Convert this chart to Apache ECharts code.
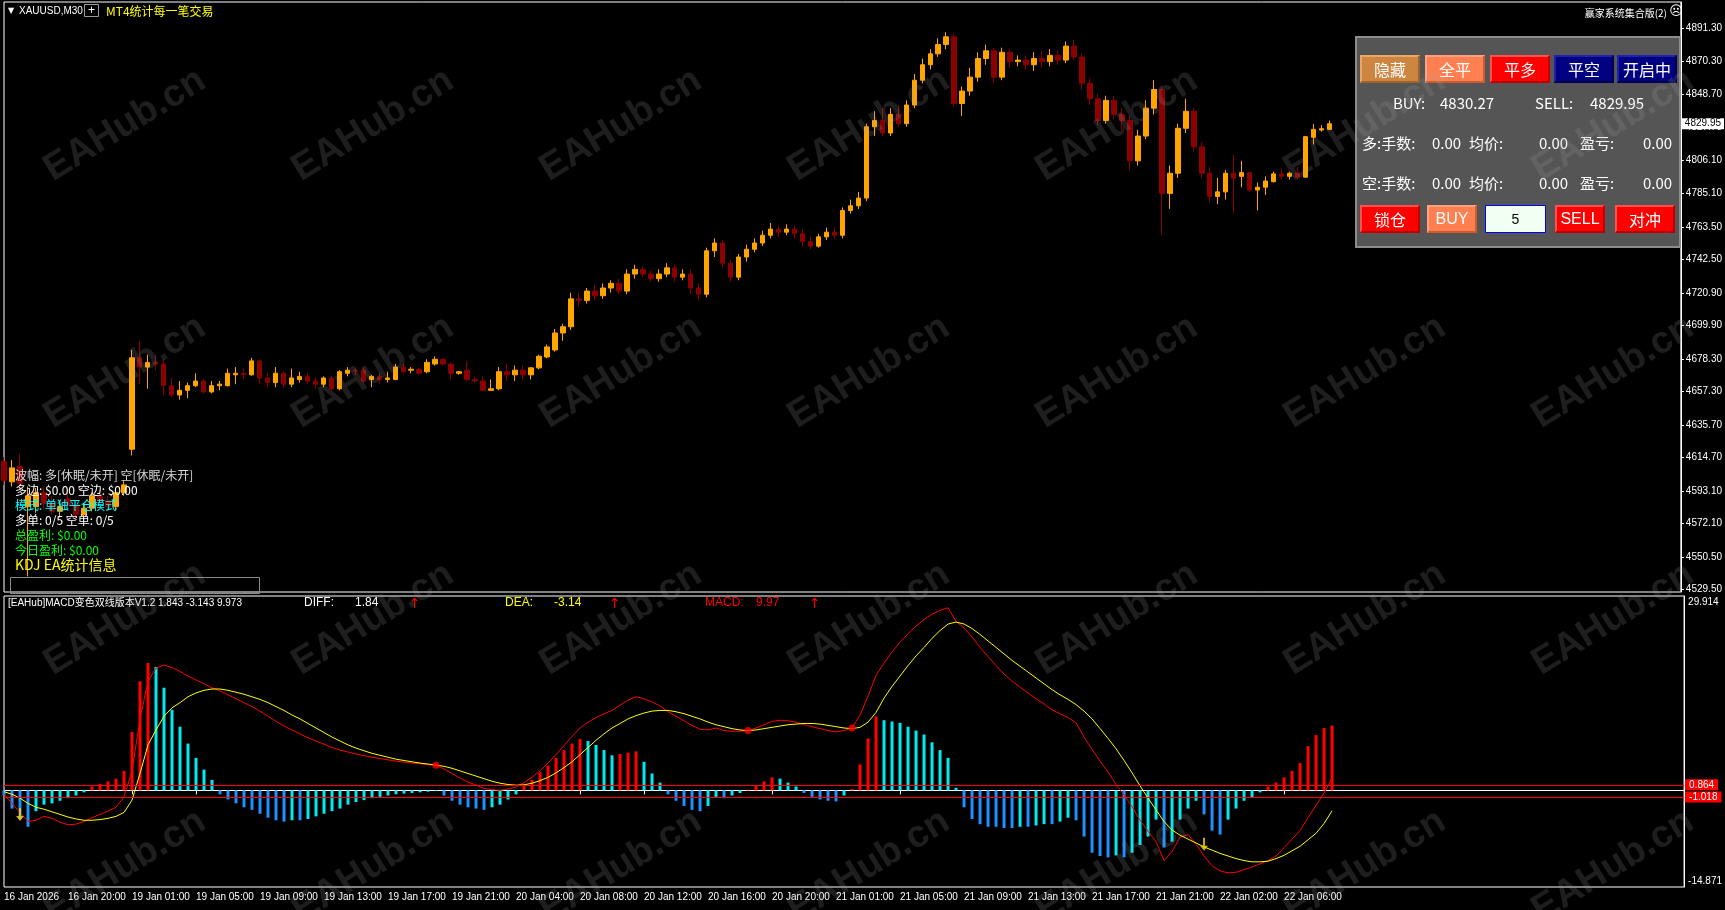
<!DOCTYPE html>
<html><head><meta charset="utf-8">
<script src="https://cdn.jsdelivr.net/npm/echarts@6/dist/echarts.min.js"></script>
<style>html,body{margin:0;padding:0;background:#000;overflow:hidden}#c{width:1725px;height:910px}</style>
</head><body><div id="c"></div>
<script>
// ---------- DATA ----------
const tickLabels = ['16 Jan 2026','16 Jan 20:00','19 Jan 01:00','19 Jan 05:00','19 Jan 09:00','19 Jan 13:00','19 Jan 17:00','19 Jan 21:00','20 Jan 04:00','20 Jan 08:00','20 Jan 12:00','20 Jan 16:00','20 Jan 20:00','21 Jan 01:00','21 Jan 05:00','21 Jan 09:00','21 Jan 13:00','21 Jan 17:00','21 Jan 21:00','22 Jan 02:00','22 Jan 06:00'];
const priceTicks = [4891.30,4870.30,4848.70,4827.70,4806.10,4785.10,4763.50,4742.50,4720.90,4699.90,4678.30,4657.30,4635.70,4614.70,4593.10,4572.10,4550.50,4529.50];
const priceRange = [4527.95, 4908.45];
const macdRange = [-14.871, 29.914];
const macdTicks = [29.914, -14.871];
const levelValues = [0.864, -1.018];
const slotCount = 211;

const opens = [
4612,4599,4609,4583,4583,4592,4585,4580,4588,4584,
4578,4582,4590,4587,4583,4592,4620,4679,4673,4676,
4675,4661,4655,4658,4661,4664,4657,4661,4661,4668,
4669,4668,4677,4666,4663,4669,4662,4665,4667,4664,
4662,4666,4659,4669,4671,4671,4665,4667,4665,4665,
4673,4671,4671.6,4670,4675,4678,4675,4669,4671,4665,
4664,4658,4659,4670,4668,4671,4668,4672.5,4679.5,4684,
4695,4699,4717,4716,4722,4719,4724,4727,4722,4733,
4736,4733,4730,4733,4737,4731,4733,4724,4720,4748,
4753,4740,4731,4744,4749,4753,4758,4762,4760,4762,
4759,4754,4751,4757,4760,4758,4774,4777,4782,4828,
4832,4824,4836,4830,4842,4858,4868,4875,4881,4886,
4843,4851,4860,4872,4877,4860,4876,4870,4871,4868,
4872,4870,4874,4871,4880,4873,4856,4846,4832,4845,
4836,4832,4806,4822,4840,4852,4785,4798,4827,4838,
4815,4798,4783,4786,4798,4796,4798.4,4787.2,4789,4792.6,
4797.6,4796,4798,4795.5,4821.2,4825.9,4826.3];
const closes = [
4600,4608,4598,4590,4592,4585,4580,4583,4584,4578,
4582,4590,4587,4583,4592,4597,4679,4673,4676,4675,
4661,4655,4658,4661,4664,4657,4661,4662,4669,4669,
4668,4677,4666,4663,4669,4662,4666,4667,4664,4662,
4666,4659,4670,4671,4670.5,4664,4667,4665,4666,4673,
4670,4671.6,4669,4676,4678,4675,4669,4670,4665,4664,
4658,4659,4670,4668,4671,4668,4672.5,4680,4686,4695,
4699,4717,4716,4722,4719,4724,4727,4722,4733,4736,
4733,4730,4733,4737,4731,4733,4724,4720,4748,4753,
4740,4731,4744,4749,4753,4758,4762,4760,4762,4759,
4754,4751,4757,4760,4758,4774,4777,4782,4828,4832,
4824,4836,4830,4842,4858,4868,4875,4881,4886,4843,
4851,4860,4872,4877,4860,4876,4870,4871,4868,4872,
4870,4874,4871,4880,4873,4856,4846,4832,4845,4836,
4832,4806,4822,4840,4852,4785,4798,4827,4838,4815,
4798,4783,4786,4798,4794.8,4798.4,4787.2,4789,4793,4797.6,
4796,4798,4795.5,4821.6,4826.3,4826.7,4829.95];
const lows = [
4597,4596,4594,4538,4579,4581,4578,4576,4581,4575,
4574,4580,4584,4580,4581,4590,4616,4662,4659,4671,
4655,4654,4652,4653,4660,4656,4656,4658,4660.5,4662,
4665,4667.5,4662,4660,4660,4660,4660,4663,4662.5,4659,
4660,4658,4658,4667,4668,4663,4660,4662,4663,4664.5,
4669,4669,4668,4669,4674,4674,4665,4668,4664,4663,
4657.5,4657.8,4658,4664,4664,4665,4665,4671.6,4678.7,4683,
4690,4697,4712,4714,4716,4717,4721,4720,4720,4730,
4731,4728,4728,4731,4728,4729,4720,4716,4718,4744,
4737,4728,4729,4741,4747,4751,4756,4757,4758,4756,
4751,4749,4750,4755,4756,4756,4772,4775,4780,4822,
4822,4822,4828,4828,4840,4856,4865,4873,4878,4841,
4835,4848,4857,4868,4856,4858,4866,4867,4865,4864,
4866,4867,4868,4869,4871,4852,4842,4829,4830,4833,
4826,4800,4803,4820,4836,4758,4775,4795,4824,4812,
4795,4779,4778,4781,4772.2,4789,4786,4774,4784,4792,
4794,4794,4794,4795,4816.6,4824.8,4826];
const highs = [
4615,4613,4617,4596,4595,4596,4590,4587,4594,4587,
4585,4592,4594,4590,4595,4600,4684,4690,4681,4681,
4678,4666,4664,4663,4669,4665,4664,4664,4672,4673,
4672,4679,4678,4669,4673,4670,4672,4670,4669,4666,
4667,4667,4671,4673,4673,4673,4668,4669,4670,4675,
4675,4673,4672.5,4678,4680,4679,4676,4670.5,4676.5,4667,
4667,4665,4673,4675,4674,4674,4673,4681,4687.6,4697.6,
4701,4721,4721,4724,4726,4727,4729,4730,4736,4739,
4738,4735,4736,4740,4739,4736,4736,4727,4750,4756,
4755,4742,4746,4752,4756,4761,4766,4764,4765,4764,
4762,4757,4759,4763,4763,4776,4781,4786,4830,4838,
4840,4840,4842,4845,4862,4872,4878,4885,4889,4888,
4854,4866,4876,4881,4879,4879,4878,4874,4874,4876,
4877,4878,4877,4883,4884,4875,4859,4849,4848,4848,
4840,4835,4826,4845,4858,4854,4803,4830,4846,4840,
4818,4802,4795,4800,4809.8,4806,4799,4792,4796,4799,
4801,4799,4802,4822,4829.7,4829,4832];

const diffValues = [
-0.6,-2.0,-3.4,-4.8,-4.6,-4.0,-4.3,-4.9,-5.3,-5.2,
-4.8,-4.2,-3.7,-3.2,-2.6,-1.0,3.0,11.0,16.8,18.8,
19.3,18.9,18.3,17.6,17.0,16.4,15.8,15.3,14.7,14.1,
13.5,12.9,12.2,11.4,10.6,9.9,9.3,8.7,8.1,7.6,
7.1,6.6,6.2,5.9,5.6,5.35,5.1,4.9,4.7,4.5,
4.35,4.2,4.1,3.95,3.85,3.3,2.6,1.9,1.3,0.8,
0.3,0.1,0.0,0.2,0.5,1.2,2.0,3.0,4.2,5.5,
6.9,8.3,9.6,10.5,11.2,11.8,12.3,13.1,13.9,14.4,
14.1,13.6,13.0,12.1,11.4,10.7,10.0,9.4,9.3,9.6,
9.2,9.1,9.1,9.2,9.6,10.1,10.6,10.8,10.7,10.5,
10.1,9.8,9.5,9.2,9.0,9.2,9.6,11.6,14.5,17.7,
19.6,21.3,22.8,24.1,25.3,26.3,27.1,27.7,28.1,26.0,
25.0,23.6,22.0,20.6,19.2,17.9,16.8,15.9,15.0,14.1,
13.3,12.4,11.8,11.2,10.4,8.2,6.3,4.5,2.8,0.9,
-0.7,-2.5,-4.6,-6.3,-7.9,-10.8,-9.4,-7.2,-6.8,-8.3,
-10.1,-11.6,-12.4,-12.7,-12.6,-12.2,-11.8,-11.3,-10.8,-10.1,
-8.8,-7.5,-6.2,-4.2,-2.3,-0.4,1.843];
const deaValues = [
-0.2,-0.6,-1.2,-2.0,-2.6,-2.9,-3.3,-3.7,-4.1,-4.4,
-4.6,-4.6,-4.5,-4.3,-4.0,-3.4,-1.5,2.6,7.0,9.3,
11.4,12.7,13.5,14.4,15.0,15.4,15.6,15.6,15.4,15.1,
14.8,14.4,14.0,13.5,12.9,12.3,11.6,11.0,10.3,9.6,
8.9,8.2,7.6,7.0,6.5,6.1,5.7,5.4,5.1,4.8,
4.6,4.4,4.2,4.05,3.9,3.7,3.4,3.0,2.6,2.2,
1.8,1.4,1.1,0.9,0.8,0.85,1.1,1.5,2.0,2.7,
3.5,4.4,5.5,6.6,7.7,8.7,9.6,10.3,11.0,11.5,
11.9,12.2,12.3,12.3,12.1,11.8,11.4,11.0,10.5,10.1,
9.8,9.5,9.3,9.2,9.3,9.5,9.7,9.9,10.1,10.2,
10.3,10.3,10.2,10.0,9.8,9.6,9.5,9.7,10.5,12.0,
14.2,16.0,17.6,19.2,20.7,22.0,23.4,24.6,25.6,25.9,
25.6,24.9,24.0,23.0,22.0,21.0,20.0,19.1,18.2,17.3,
16.4,15.5,14.7,14.0,13.2,12.2,11.0,9.5,8.0,6.4,
4.6,2.7,0.7,-1.2,-3.0,-4.8,-6.1,-6.9,-7.5,-8.1,
-8.7,-9.2,-9.7,-10.1,-10.5,-10.8,-11.0,-11.0,-10.9,-10.5,
-10.0,-9.3,-8.6,-7.6,-6.6,-5.1,-3.143];
const histValues = [
-0.8,-2.8,-4.4,-5.6,-3.2,-2.2,-2.0,-1.6,-1.2,-0.8,
-0.3,0.6,1.0,1.4,1.8,3.0,9.0,16.8,19.6,19.0,
15.8,12.4,9.8,7.2,5.0,3.2,1.6,-0.6,-1.4,-2.0,
-2.6,-3.0,-3.6,-4.2,-4.6,-4.8,-4.6,-4.6,-4.4,-4.0,
-3.6,-3.2,-2.8,-2.2,-1.8,-1.5,-1.2,-1.0,-0.8,-0.6,
-0.5,-0.4,-0.3,-0.2,-0.1,-0.8,-1.6,-2.2,-2.6,-2.8,
-3.0,-2.6,-2.2,-1.4,-0.6,0.7,1.6,2.8,3.8,5.0,
6.2,7.2,7.9,7.6,7.0,6.2,5.4,5.6,5.8,6.0,
4.4,2.6,1.2,-0.6,-1.6,-2.4,-3.0,-3.2,-2.4,-1.0,
-1.2,-0.8,-0.4,0.1,0.8,1.4,2.0,1.8,1.2,0.6,
-0.4,-1.0,-1.4,-1.6,-1.7,-0.8,0.2,4.0,8.0,11.4,
10.8,10.6,10.4,9.8,9.2,8.6,7.4,6.2,5.0,0.4,
-2.6,-4.4,-5.2,-5.6,-5.6,-5.8,-5.8,-5.6,-5.6,-5.4,
-5.2,-5.2,-4.8,-4.2,-4.6,-7.1,-9.6,-10.1,-10.3,-10.0,
-10.3,-9.6,-8.4,-7.1,-4.5,-8.8,-7.9,-4.5,-2.8,-1.6,
-3.7,-6.2,-6.8,-4.5,-2.8,-1.6,-1.1,-0.3,0.6,1.2,
2.0,3.0,4.2,6.8,8.5,9.6,9.973];
const crossBars = [54, 93, 106];
const arrowBars = [2, 150];
const arrowValues = [-3.7, -8.3];
const bidPrice = 4829.95, askPrice = 4830.27;

// ---------- BUILD ----------
const N = opens.length;
const last = N - 1;
const categories = [];
for (let i = 0; i < slotCount; i++) categories.push(i % 8 === 0 && tickLabels[i / 8] ? tickLabels[i / 8] : '');
const candleData = opens.map((o, i) => [o, closes[i], lows[i], highs[i]]);
const FONT = '"Liberation Sans","Noto Sans CJK SC",sans-serif';
const CJK = '"Noto Sans CJK SC","Liberation Sans",sans-serif';

const graphics = [];
function txt(x, y, s, color, size, opt) {
  opt = opt || {};
  graphics.push({type:'text', x, y, z: opt.z || 60, silent:true,
    style:{text:s, fill:color, font:(opt.weight||'normal') + ' ' + size + 'px ' + (opt.family||CJK),
      align: opt.align||'left', verticalAlign:'middle'}});
}
function rect(x, y, w, h, fill, stroke, lw, z) {
  graphics.push({type:'rect', z: z||55, silent:true, shape:{x, y, width:w, height:h},
    style:{fill: fill||'none', stroke: stroke||null, lineWidth: lw||1}});
}
function btn(x, y, w, h, fill, label, color, hi, lo, family, size) {
  rect(x, y, w, h, fill, null, 0, 55);
  graphics.push({type:'polyline', z:56, silent:true, shape:{points:[[x+1,y+h-1],[x+1,y+1],[x+w-1,y+1]]}, style:{stroke:hi, lineWidth:2, fill:null}});
  graphics.push({type:'polyline', z:56, silent:true, shape:{points:[[x+1,y+h-1],[x+w-1,y+h-1],[x+w-1,y+1]]}, style:{stroke:lo, lineWidth:2, fill:null}});
  txt(x + w/2, y + h/2 + 1, label, color, size||16, {align:'center', family: family||CJK, z:57});
}
// header
txt(8, 11, '▼', '#fff', 8, {family:'"DejaVu Sans"'});
txt(19, 11, 'XAUUSD,M30', '#fff', 10, {family:FONT});
rect(84.5, 4.5, 14, 12, 'none', '#9a9a9a', 1, 60);
txt(91.5, 10.5, '+', '#fff', 12, {align:'center', family:FONT});
txt(106, 11, 'MT4统计每一笔交易', '#FFFF00', 12);
txt(1667, 13, '赢家系统集合版(2)', '#fff', 10, {align:'right'});
txt(1676, 12, '☹', '#fff', 13, {align:'center', family:'"DejaVu Sans"'});
// info block
txt(15, 475, '波幅: 多[休眠/未开] 空[休眠/未开]', '#D8D8D8', 12);
txt(15, 490, '多边: $0.00 空边: $0.00', '#FFFFFF', 12);
txt(15, 505, '模式: 单独平仓模式', '#00FFFF', 12);
txt(15, 520, '多单: 0/5 空单: 0/5', '#FFFFFF', 12);
txt(15, 535, '总盈利: $0.00', '#00FF00', 12);
txt(15, 550, '今日盈利: $0.00', '#00FF00', 12);
txt(15, 565, 'KDJ EA统计信息', '#FFFF00', 14);
rect(10.5, 577.5, 249, 16, 'none', '#8a8a8a', 1, 60);
// MACD header
txt(8, 603, '[EAHub]MACD变色双线版本V1.2 ' + diffValues[last].toFixed(3) + ' ' + deaValues[last].toFixed(3) + ' ' + histValues[last].toFixed(3), '#fff', 10, {family:FONT});
txt(304, 603, 'DIFF:', '#fff', 12, {family:FONT});
txt(355, 603, diffValues[last].toFixed(2), '#fff', 12, {family:FONT});
txt(409, 604, '↑', '#FF0000', 14, {family:'"DejaVu Sans"'});
txt(505, 603, 'DEA:', '#FFFF00', 12, {family:FONT});
txt(554, 603, deaValues[last].toFixed(2), '#FFFF00', 12, {family:FONT});
txt(609, 604, '↑', '#FF0000', 14, {family:'"DejaVu Sans"'});
txt(705, 603, 'MACD:', '#FF0000', 12, {family:FONT});
txt(756, 603, histValues[last].toFixed(2), '#FF0000', 12, {family:FONT});
txt(809, 604, '↑', '#FF0000', 14, {family:'"DejaVu Sans"'});
// trade panel
rect(1356, 37, 324, 210, '#555555', '#8c8c8c', 2, 50);
btn(1360, 55, 60, 28, '#CD853F', '隐藏', '#fff', '#E8A868', '#A0642A');
btn(1425, 55, 60, 28, '#FF7F50', '全平', '#fff', '#FFA080', '#D05A30');
btn(1490, 55, 60, 28, '#FF0000', '平多', '#fff', '#FF5050', '#C00000');
btn(1554, 55, 60, 28, '#000080', '平空', '#fff', '#2020B0', '#000050');
btn(1617, 55, 60, 28, '#000080', '开启中', '#fff', '#2020B0', '#000050');
txt(1393, 103, 'BUY:', '#fff', 15);
txt(1440, 103, askPrice.toFixed(2), '#fff', 15);
txt(1535, 103, 'SELL:', '#fff', 15);
txt(1590, 103, bidPrice.toFixed(2), '#fff', 15);
[['多', 143], ['空', 183]].forEach(function (r) {
  txt(1362, r[1], r[0] + ':手数:', '#fff', 15);
  txt(1432, r[1], '0.00', '#fff', 15);
  txt(1469, r[1], '均价:', '#fff', 15);
  txt(1539, r[1], '0.00', '#fff', 15);
  txt(1580, r[1], '盈亏:', '#fff', 15);
  txt(1643, r[1], '0.00', '#fff', 15);
});
btn(1360, 205, 60, 28, '#FF0000', '锁仓', '#fff', '#FF5050', '#C00000');
btn(1427, 205, 50, 28, '#FF7F50', 'BUY', '#fff', '#FFA080', '#D05A30', FONT, 16);
rect(1485.5, 205.5, 60, 27, '#F0FFF0', '#0000FF', 1, 55);
txt(1515.5, 220, '5', '#000', 14, {align:'center', family:FONT, z:57});
btn(1555, 205, 50, 28, '#FF0000', 'SELL', '#fff', '#FF5050', '#C00000', FONT, 16);
btn(1615, 205, 60, 28, '#FF0000', '对冲', '#fff', '#FF5050', '#C00000');
// watermarks
[125, 372, 619, 866].forEach(function (wy) {
  [125, 373, 621, 869, 1117, 1365, 1613].forEach(function (wx) {
    graphics.push({type:'text', x:wx, y:wy, rotation:0.55, z:100, silent:true,
      style:{text:'EAHub.cn', fill:'rgba(160,160,160,0.19)', font:'bold 38px "Liberation Sans"', align:'center', verticalAlign:'middle'}});
  });
});

const chart = echarts.init(document.getElementById('c'), null, {renderer:'canvas'});
chart.setOption({
  backgroundColor:'#000',
  animation:false,
  grid:[
    {left:4, right:39, top:2, height:590, show:true, borderColor:'#fff', borderWidth:1, backgroundColor:'transparent'},
    {left:4, right:39, top:596, height:291, show:true, borderColor:'#fff', borderWidth:1, backgroundColor:'transparent'}
  ],
  xAxis:[
    {type:'category', gridIndex:0, data:categories, boundaryGap:false,
      axisLine:{show:false}, axisTick:{show:false}, axisLabel:{show:false}, splitLine:{show:false}},
    {type:'category', gridIndex:1, data:categories, boundaryGap:false,
      axisLine:{show:true, lineStyle:{color:'#fff'}},
      axisTick:{show:true, length:4, lineStyle:{color:'#fff'}, interval:function (i) { return i % 8 === 0 && i < N; }},
      axisLabel:{show:true, color:'#fff', fontSize:10, fontFamily:'Liberation Sans', align:'left', margin:5,
        interval:function (i) { return i % 8 === 0 && i < N; }},
      splitLine:{show:false}}
  ],
  yAxis:[
    {type:'value', gridIndex:0, position:'right', min:priceRange[0], max:priceRange[1], scale:true,
      axisLine:{show:true, lineStyle:{color:'#fff'}}, splitLine:{show:false},
      axisTick:{show:true, length:3, lineStyle:{color:'#fff'}, customValues:priceTicks},
      axisLabel:{color:'#fff', fontSize:10, fontFamily:'Liberation Sans', margin:5, customValues:priceTicks,
        formatter:function (v) { return Number(v).toFixed(2); }}},
    {type:'value', gridIndex:1, position:'right', min:macdRange[0], max:macdRange[1],
      axisLine:{show:true, lineStyle:{color:'#fff'}}, splitLine:{show:false},
      axisTick:{show:false, customValues:macdTicks},
      axisLabel:{color:'#fff', fontSize:10, fontFamily:'Liberation Sans', margin:4, customValues:macdTicks,
        formatter:function (v) { return v > 0 ? '{t|' + Number(v).toFixed(3) + '}' : '{b|' + Number(v).toFixed(3) + '}'; },
        rich:{t:{color:'#fff', fontSize:10, fontFamily:'Liberation Sans', padding:[13,0,0,0]},
              b:{color:'#fff', fontSize:10, fontFamily:'Liberation Sans', padding:[0,0,12,0]}}}}
  ],
  series:[
    {type:'candlestick', xAxisIndex:0, yAxisIndex:0, data:candleData, barWidth:5, z:2,
      itemStyle:{color:'#FFA500', color0:'#8B0000', borderColor:'#FFA500', borderColor0:'#8B0000', borderWidth:1},
      markLine:{silent:true, symbol:'none', z:10, lineStyle:{color:'rgba(0,0,0,0)', width:0},
        label:{show:true, position:'end', distance:1, formatter:function () { return bidPrice.toFixed(2); },
          backgroundColor:'#fff', color:'#000', fontSize:10, fontFamily:'Liberation Sans', padding:[1,3,0,3], opacity:1},
        data:[{yAxis:bidPrice}]}},
    {type:'bar', xAxisIndex:1, yAxisIndex:1, data:histValues, barWidth:3,
      itemStyle:{color:function (p) {
        const i = p.dataIndex, v = histValues[i], pv = i > 0 ? histValues[i-1] : v;
        if (v >= 0) return v >= pv ? '#FF0000' : '#00E8F0';
        return v <= pv ? '#1E90FF' : '#00E8F0';
      }},
      markLine:{silent:true, symbol:'none', precision:3, lineStyle:{color:'#FF0000', width:1, type:'solid'},
        label:{show:true, position:'end', distance:1, formatter:function (p) { return levelValues[p.dataIndex].toFixed(3); },
          backgroundColor:'#FF0000', color:'#fff', fontSize:10, fontFamily:'Liberation Sans', padding:[1,4,0,4]},
        data:levelValues.map(function (v) { return {yAxis:v}; })}},
    {type:'line', xAxisIndex:1, yAxisIndex:1, data:diffValues, symbol:'none', lineStyle:{color:'#FF0000', width:1}, z:3},
    {type:'line', xAxisIndex:1, yAxisIndex:1, data:deaValues, symbol:'none', lineStyle:{color:'#FFFF00', width:1}, z:3},
    {type:'scatter', xAxisIndex:1, yAxisIndex:1, symbol:'circle', symbolSize:7, itemStyle:{color:'#FF0000'}, z:4,
      data:crossBars.map(function (b) { return [b, diffValues[b]]; })},
    {type:'scatter', xAxisIndex:1, yAxisIndex:1, symbol:'path://M3,0 L5,0 L5,8 L8,8 L4,13 L0,8 L3,8 Z', symbolSize:[8,13],
      itemStyle:{color:'#FFD700'}, z:4,
      data:arrowBars.map(function (b, k) { return [b, arrowValues[k]]; })}
  ],
  graphic:graphics
});
</script>
</body></html>
